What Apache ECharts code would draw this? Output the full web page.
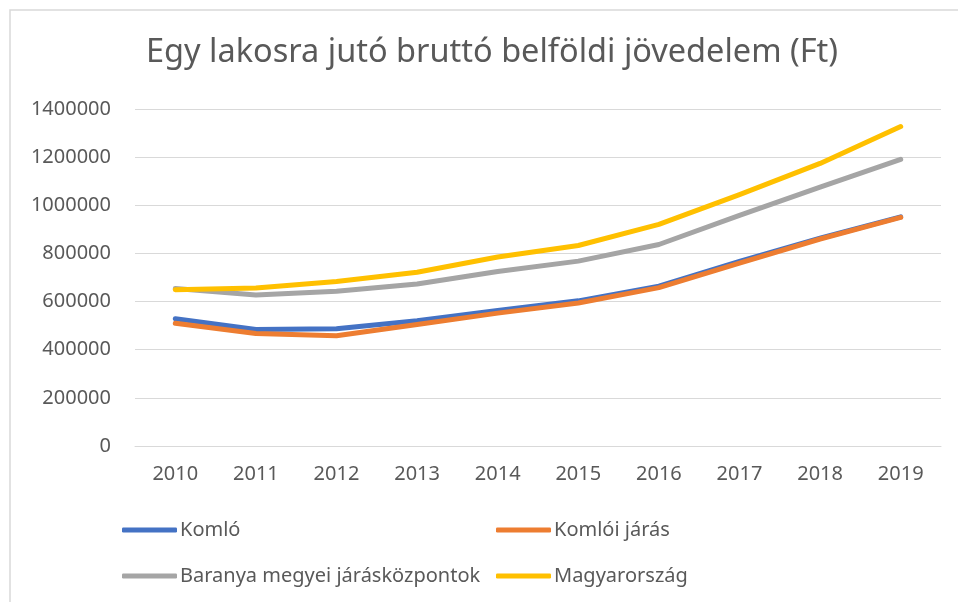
<!DOCTYPE html>
<html>
<head>
<meta charset="utf-8">
<script src="https://cdn.jsdelivr.net/npm/echarts@6/dist/echarts.min.js"></script>
<style>
  html, body { margin: 0; padding: 0; background: #fff; overflow: hidden; }
  #chart { width: 958px; height: 602px; }
</style>
</head>
<body>
<div id="chart"></div>
<script>
// evek
var years = ['2010', '2011', '2012', '2013', '2014', '2015', '2016', '2017', '2018', '2019']
var komlo = [529000, 484000, 487000, 520000, 563000, 603000, 664000, 767000, 863000, 952000]
var komloiJaras = [510000, 467000, 458000, 505000, 552000, 594000, 658000, 760000, 860000, 950000]
var baranya = [654000, 627000, 643000, 673000, 725000, 768000, 837000, 958000, 1075000, 1191000]
var magyarorszag = [649000, 656000, 683000, 722000, 785000, 833000, 921000, 1044000, 1174000, 1327000]

var seriesNames = ['Komló', 'Komlói járás', 'Baranya megyei járásközpontok', 'Magyarország']
var colors = ['#4472C4', '#ED7D31', '#A5A5A5', '#FFC000']

var font = 'Noto Sans'
var textColor = '#595959'

var chart = echarts.init(document.getElementById('chart'))

function legendAt (name, left, top) {
  return {
    data: [name],
    left: left,
    top: top,
    padding: 0,
    icon: 'roundRect',
    itemWidth: 55,
    itemHeight: 5,
    itemGap: 0,
    selectedMode: false,
    textStyle: { fontFamily: font, fontSize: 20, color: textColor, padding: [0, 0, 0, -2] }
  }
}

function lineSeries (name, data, color) {
  return {
    name: name,
    type: 'line',
    data: data,
    showSymbol: false,
    symbol: 'none',
    color: color,
    lineStyle: { width: 5, color: color, cap: 'round', join: 'round' }
  }
}

var option = {
  animation: false,
  backgroundColor: '#fff',
  title: {
    text: 'Egy lakosra jutó bruttó belföldi jövedelem (Ft)',
    left: 146,
    top: 36,
    padding: 0,
    textStyle: { fontFamily: font, fontSize: 32.5, fontWeight: 'normal', color: textColor }
  },
  graphic: [{
    type: 'rect',
    shape: { x: 10, y: 10, width: 970, height: 620 },
    style: { fill: 'none', stroke: '#d9d9d9', lineWidth: 1.5 },
    silent: true
  }],
  legend: [
    legendAt(seriesNames[0], 122, 520),
    legendAt(seriesNames[1], 496, 520),
    legendAt(seriesNames[2], 122, 566),
    legendAt(seriesNames[3], 496, 566)
  ],
  grid: { left: 135, right: 17, top: 109, bottom: 156, containLabel: false },
  xAxis: {
    type: 'category',
    data: years,
    boundaryGap: true,
    axisLine: { show: true, lineStyle: { color: '#d9d9d9', width: 1 } },
    axisTick: { show: false },
    axisLabel: { fontFamily: font, fontSize: 20, color: textColor, margin: 18 }
  },
  yAxis: {
    type: 'value',
    min: 0,
    max: 1400000,
    interval: 200000,
    axisLine: { show: false },
    axisTick: { show: false },
    splitLine: { lineStyle: { color: '#d9d9d9', width: 1 } },
    axisLabel: {
      fontFamily: font,
      fontSize: 20,
      color: textColor,
      margin: 24,
      formatter: function (v) { return String(v) }
    }
  },
  series: [
    lineSeries(seriesNames[0], komlo, colors[0]),
    lineSeries(seriesNames[1], komloiJaras, colors[1]),
    lineSeries(seriesNames[2], baranya, colors[2]),
    lineSeries(seriesNames[3], magyarorszag, colors[3])
  ]
}

chart.setOption(option)
</script>
</body>
</html>
